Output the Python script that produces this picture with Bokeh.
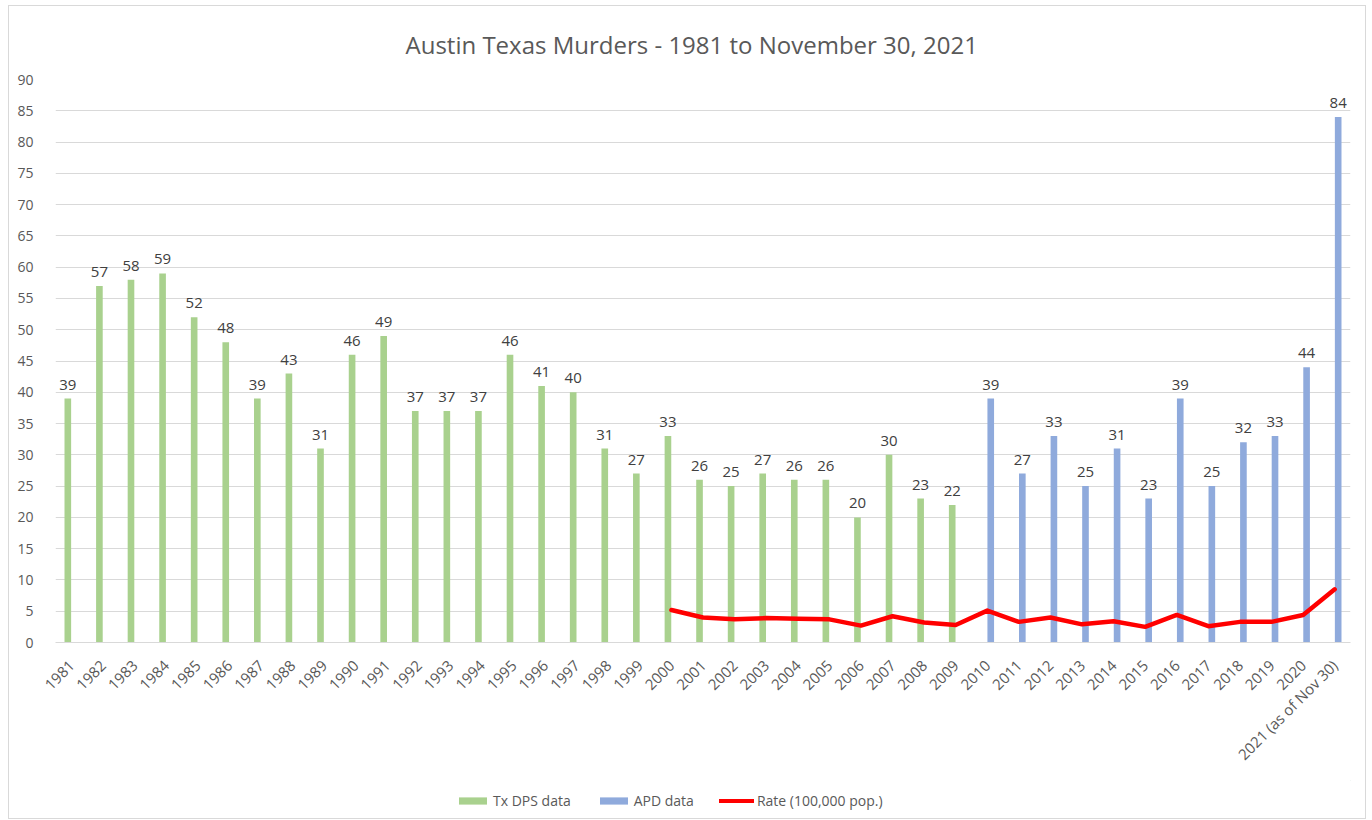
from bokeh.plotting import figure
from bokeh.models import (ColumnDataSource, FactorRange, Range1d, Legend, LegendItem,
                          SingleIntervalTicker, Title)
from bokeh.layouts import column
from bokeh.transform import dodge
from bokeh.core.properties import value
from bokeh.embed import file_html
from bokeh.resources import INLINE
import math

years = [str(y) for y in range(1981, 2021)] + ["2021 (as of Nov 30)"]

dps_years = [str(y) for y in range(1981, 2010)]
dps_values = [39, 57, 58, 59, 52, 48, 39, 43, 31, 46, 49, 37, 37, 37, 46, 41, 40, 31, 27,
              33, 26, 25, 27, 26, 26, 20, 30, 23, 22]

apd_years = [str(y) for y in range(2010, 2021)] + ["2021 (as of Nov 30)"]
apd_values = [39, 27, 33, 25, 31, 23, 39, 25, 32, 33, 44, 84]

rate_years = [str(y) for y in range(2000, 2021)] + ["2021 (as of Nov 30)"]
rate_values = [5.2, 4.0, 3.7, 3.9, 3.8, 3.7, 2.7, 4.2, 3.2, 2.8, 5.1, 3.3, 4.0, 2.9, 3.4,
               2.5, 4.4, 2.6, 3.3, 3.3, 4.4, 8.5]

FONT = "Open Sans"
GREEN = "#A9D18E"
BLUE = "#8FAADC"
RED = "#FF0000"
GREY_TXT = "#595959"

p = figure(width=1356, height=774, output_backend="svg", toolbar_location=None,
           x_range=FactorRange(factors=years, range_padding=0),
           y_range=Range1d(0, 90),
           min_border_left=46, min_border_right=15, min_border_top=72, min_border_bottom=138)

p.title = Title(text="Austin Texas Murders - 1981 to November 30, 2021", align="left",
                offset=350, text_font=FONT, text_font_size="24px",
                text_font_style="normal", text_color=GREY_TXT, standoff=38)

dps_src = ColumnDataSource(dict(x=dps_years, y=dps_values, t=[str(v) for v in dps_values]))
apd_src = ColumnDataSource(dict(x=apd_years, y=apd_values, t=[str(v) for v in apd_values]))
rate_src = ColumnDataSource(dict(x=rate_years, y=rate_values))

r_dps = p.vbar(x=dodge("x", -0.11, range=p.x_range), top="y", width=0.21, bottom=0,
               source=dps_src, fill_color=GREEN, line_color=None)
r_apd = p.vbar(x=dodge("x", 0.11, range=p.x_range), top="y", width=0.21, bottom=0,
               source=apd_src, fill_color=BLUE, line_color=None)
r_rate = p.line(x="x", y="y", source=rate_src, line_color=RED, line_width=4.5,
                line_join="round", line_cap="round")

for src, off in ((dps_src, -0.11), (apd_src, 0.11)):
    p.text(x=dodge("x", off, range=p.x_range), y="y", text="t", source=src,
           text_align="center", text_baseline="bottom", y_offset=-9,
           text_font=value(FONT), text_font_size="15px", text_color="#404040")

# axes
p.yaxis.ticker = SingleIntervalTicker(interval=5)
p.yaxis.axis_line_color = None
p.yaxis.major_tick_line_color = None
p.yaxis.minor_tick_line_color = None
p.yaxis.major_label_text_font = FONT
p.yaxis.major_label_text_font_size = "14px"
p.yaxis.major_label_text_color = GREY_TXT
p.yaxis.major_label_standoff = 16

p.xaxis.axis_line_color = "#D9D9D9"
p.xaxis.major_tick_line_color = None
p.xaxis.minor_tick_line_color = None
p.xaxis.major_label_orientation = math.pi / 4
p.xaxis.major_label_text_font = FONT
p.xaxis.major_label_text_font_size = "15px"
p.xaxis.major_label_text_color = GREY_TXT
p.xaxis.major_label_standoff = 14

p.xgrid.grid_line_color = None
p.ygrid.grid_line_color = "#D9D9D9"
p.ygrid.grid_line_width = 1
p.outline_line_color = None

# legend row (swatch renderers sit outside the visible range)
lg = figure(width=1356, height=38, output_backend="svg", toolbar_location=None,
            x_axis_type=None, y_axis_type=None,
            x_range=Range1d(0, 1), y_range=Range1d(0, 1),
            min_border_left=0, min_border_right=0, min_border_top=0, min_border_bottom=0)
lg.grid.visible = False
lg.outline_line_color = None
g1 = lg.vbar(x=[10], top=[10], bottom=[9], width=1, fill_color=GREEN, line_color=None)
g2 = lg.vbar(x=[10], top=[10], bottom=[9], width=1, fill_color=BLUE, line_color=None)
g3 = lg.line(x=[10, 11], y=[10, 10], line_color=RED, line_width=4, line_cap="round")
legend = Legend(items=[LegendItem(label="Tx DPS data", renderers=[g1]),
                       LegendItem(label="APD data", renderers=[g2]),
                       LegendItem(label="Rate (100,000 pop.)", renderers=[g3])],
                orientation="horizontal", location=(400, 8),
                label_text_font=FONT, label_text_font_size="14px",
                label_text_color=GREY_TXT, glyph_width=35, glyph_height=9,
                label_standoff=3, spacing=25, border_line_color=None,
                background_fill_alpha=0, padding=2, margin=0)
lg.add_layout(legend, "center")

layout = column(p, lg, spacing=0)
layout.styles = {"border": "1px solid #D9D9D9", "margin-left": "8px", "margin-top": "5px"}

open("out.html", "w").write(file_html(layout, INLINE))
